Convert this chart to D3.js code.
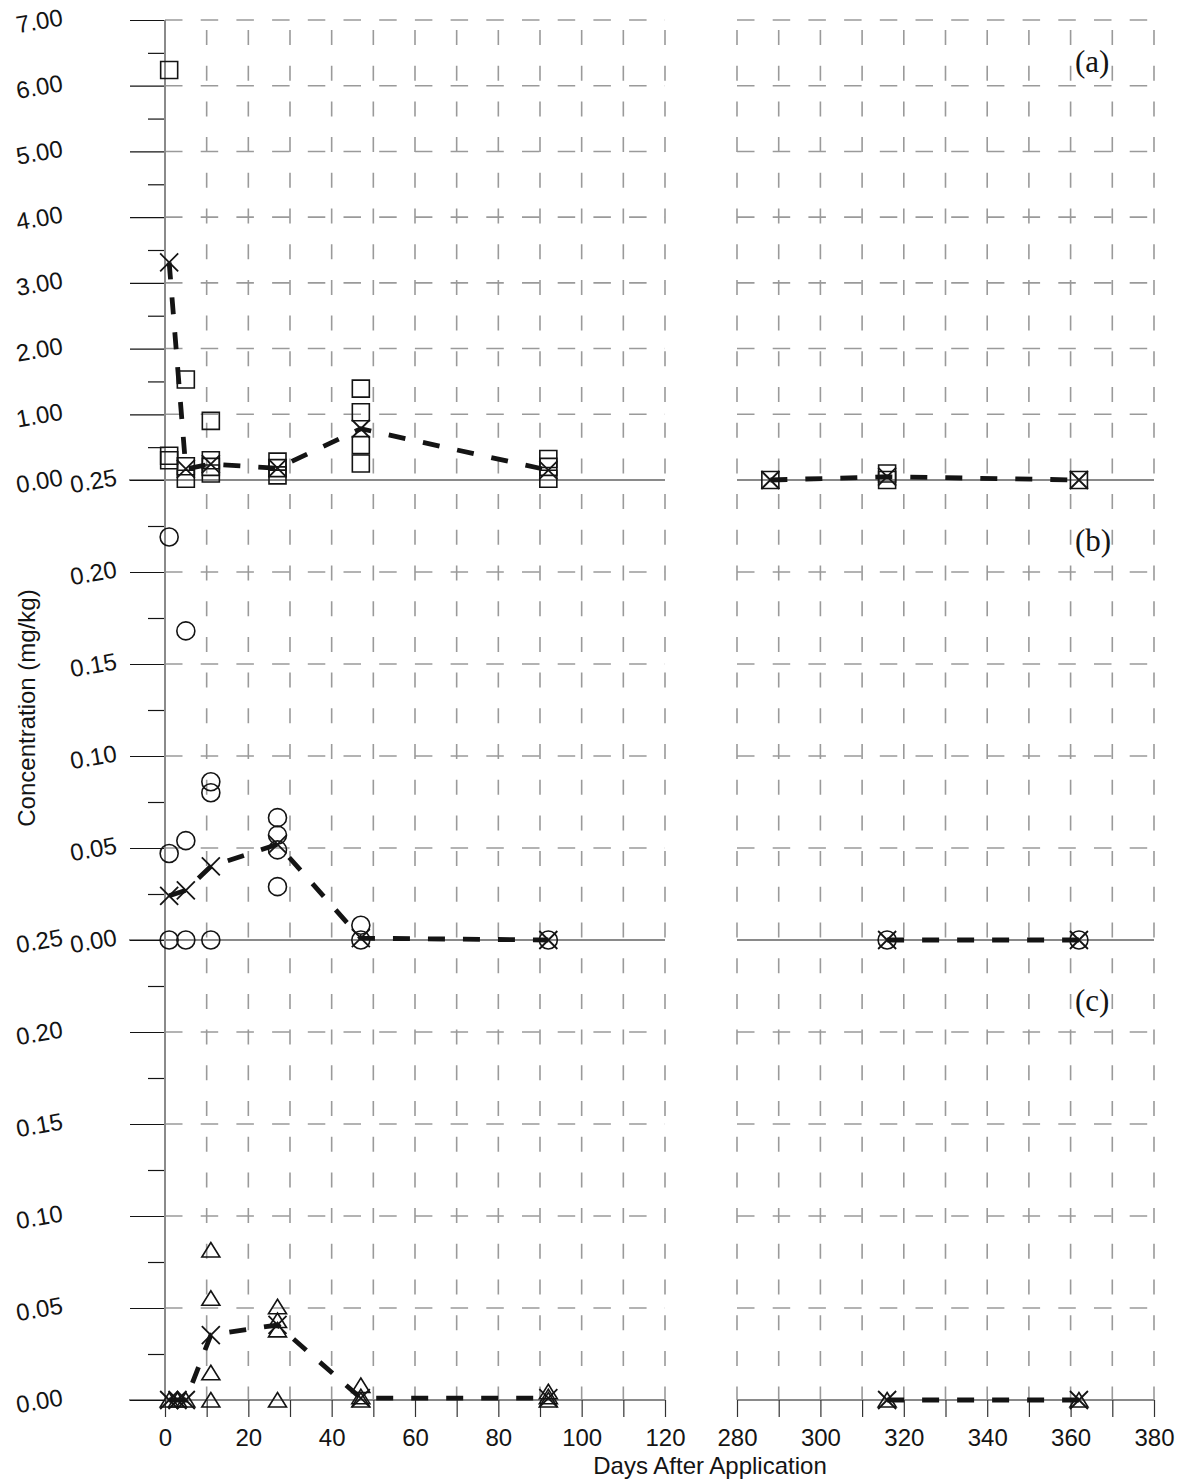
<!DOCTYPE html>
<html><head><meta charset="utf-8">
<script src="https://cdn.jsdelivr.net/npm/d3@7"></script>
<style>body{margin:0;background:#fff}</style>
</head><body>
<svg id="chart" width="1180" height="1481"></svg>
<script>
// ---------------- data ----------------
const repDaysA = [1,1,1,5,5,5,11,11,11,11,27,27,27,47,47,47,47,92,92,92,288,316,316,362];
const repValsA = [6.24,0.37,0.30,1.53,0.21,0.02,0.90,0.30,0.20,0.10,0.28,0.18,0.07,1.39,1.03,0.53,0.25,0.32,0.20,0.02,0.0,0.10,0.0,0.0];
const meanDaysA = [1,5,11,27,47,92,288,316,362];
const meanValsA = [3.31,0.17,0.24,0.18,0.78,0.15,0.0,0.05,0.0];

const repDaysB = [1,1,1,5,5,5,11,11,11,27,27,27,27,47,47,92,316,362];
const repValsB = [0.219,0.047,0.0,0.168,0.054,0.0,0.086,0.080,0.0,0.0665,0.057,0.049,0.029,0.008,0.0,0.0,0.0,0.0];
const meanDaysB = [1,5,11,27,47,92,316,362];
const meanValsB = [0.024,0.027,0.040,0.052,0.001,0.0,0.0,0.0];

const repDaysC = [1,3,5,11,11,11,11,27,27,27,27,47,47,47,92,92,92,316,362];
const repValsC = [0,0,0,0.0815,0.0553,0.0148,0,0.0507,0.0432,0.0381,0,0.0079,0.0018,0,0.0045,0.0018,0,0,0];
const meanDaysC = [1,3,5,11,27,47,92,316,362];
const meanValsC = [0,0,0,0.0353,0.0408,0.001,0.001,0,0];

const xTicksLeft = [0,10,20,30,40,50,60,70,80,90,100,110,120];
const xTicksRight = [280,290,300,310,320,330,340,350,360,370,380];
const yTicksA = [0,1,2,3,4,5,6,7];
const yMinorA = [0.5,1.5,2.5,3.5,4.5,5.5,6.5];
const yTicksBC = [0,0.05,0.10,0.15,0.20,0.25];
const yMinorBC = [0.025,0.075,0.125,0.175,0.225];
const panelLabels = ["(a)","(b)","(c)"];
const xTitle = "Days After Application";
const yTitle = "Concentration (mg/kg)";

// ---------------- layout ----------------
const svg = d3.select("#chart");
const FONT = "'Liberation Sans', Arial, Helvetica, sans-serif";
const SERIF = "'Liberation Serif', 'Times New Roman', serif";
const GRID = "#9a9a9a", AXIS = "#8a8a8a", INK = "#141414";

const xL = d3.scaleLinear().domain([0,120]).range([165,665]);
const xR = d3.scaleLinear().domain([280,380]).range([737,1154]);
const xs = d => d <= 200 ? xL(d) : xR(d);

const yA = d3.scaleLinear().domain([0,7]).range([480,20]);
const yB = d3.scaleLinear().domain([0,0.25]).range([940,480]);
const yC = d3.scaleLinear().domain([0,0.25]).range([1400,940]);

const panels = [
  {y:yA, ticks:yTicksA, minor:yMinorA, rd:repDaysA, rv:repValsA, md:meanDaysA, mv:meanValsA, mk:"square", pad:67, lab:panelLabels[0], labY:72},
  {y:yB, ticks:yTicksBC, minor:yMinorBC, rd:repDaysB, rv:repValsB, md:meanDaysB, mv:meanValsB, mk:"circle", pad:13, lab:panelLabels[1], labY:551},
  {y:yC, ticks:yTicksBC, minor:yMinorBC, rd:repDaysC, rv:repValsC, md:meanDaysC, mv:meanValsC, mk:"triangle", pad:67, lab:panelLabels[2], labY:1011}
];

const gGrid = svg.append("g");
const gAxis = svg.append("g");
const gLines = svg.append("g");
const gMarks = svg.append("g");

// vertical grid lines
[...xTicksLeft.filter(d=>d>0), ...xTicksRight].forEach(d => {
  gGrid.append("line").attr("x1", xs(d)).attr("x2", xs(d)).attr("y1", 20).attr("y2", 1400)
    .attr("stroke", GRID).attr("stroke-width", 1.6)
    .attr("stroke-dasharray", "15,20.7").attr("stroke-dashoffset", 25.7);
});

panels.forEach((p, i) => {
  // horizontal grid
  p.ticks.filter(t => t > 0 && !(i > 0 && t === 0.25)).forEach(t => {
    [[0,120],[280,380]].forEach(seg => {
      gGrid.append("line").attr("x1", xs(seg[0])).attr("x2", xs(seg[1]))
        .attr("y1", p.y(t)).attr("y2", p.y(t))
        .attr("stroke", GRID).attr("stroke-width", 1.6).attr("stroke-dasharray", "17.5,18.2");
    });
  });

  // mean dashed lines
  const pts = p.md.map((d, k) => [d, p.mv[k]]);
  const line = d3.line().x(d => xs(d[0])).y(d => p.y(d[1]));
  [pts.filter(d => d[0] <= 120), pts.filter(d => d[0] >= 280)].forEach(seg => {
    gLines.append("path").attr("d", line(seg)).attr("fill", "none")
      .attr("stroke", INK).attr("stroke-width", 4.8).attr("stroke-dasharray", "17,18");
  });

  // zero axis lines
  gAxis.append("line").attr("x1", 129).attr("x2", xL(120)).attr("y1", p.y(0)).attr("y2", p.y(0))
    .attr("stroke", AXIS).attr("stroke-width", 2);
  gAxis.append("line").attr("x1", xR(280)).attr("x2", xR(380)).attr("y1", p.y(0)).attr("y2", p.y(0))
    .attr("stroke", AXIS).attr("stroke-width", 2);

  // y axis major ticks + labels
  const ax = d3.axisLeft(p.y).tickValues(p.ticks).tickSize(35).tickPadding(p.pad)
    .tickFormat(d3.format(".2f"));
  const g = gAxis.append("g").attr("transform", "translate(165,0)").call(ax);
  g.select(".domain").remove();
  g.selectAll(".tick line").attr("stroke", INK).attr("stroke-width", 1.2);
  g.selectAll(".tick text").attr("font-family", FONT).attr("font-size", 24).attr("fill", INK)
    .attr("transform", function(){ const x = +this.getAttribute("x"); return `rotate(-10 ${x} 0) translate(0,-3)`; });
  // minor ticks
  const gm = gAxis.append("g").attr("transform", "translate(165,0)")
    .call(d3.axisLeft(p.y).tickValues(p.minor).tickSize(17).tickFormat(""));
  gm.select(".domain").remove();
  gm.selectAll(".tick line").attr("stroke", INK).attr("stroke-width", 1.2);

  // replicate markers
  const reps = p.rd.map((d, k) => [d, p.rv[k]]);
  reps.forEach(d => {
    const cx = xs(d[0]), cy = p.y(d[1]);
    let path;
    if (p.mk === "square") path = `M${cx-8.5},${cy-8.5}h17v17h-17Z`;
    else if (p.mk === "triangle") path = `M${cx},${cy-7.5}L${cx+9},${cy+7}L${cx-9},${cy+7}Z`;
    if (p.mk === "circle") {
      gMarks.append("circle").attr("cx", cx).attr("cy", cy).attr("r", 9)
        .attr("fill", "none").attr("stroke", INK).attr("stroke-width", 1.6);
    } else {
      gMarks.append("path").attr("d", path).attr("fill", "none").attr("stroke", INK).attr("stroke-width", 1.6);
    }
  });
  // mean markers (X)
  pts.forEach(d => {
    const cx = xs(d[0]), cy = p.y(d[1]);
    gMarks.append("path").attr("d", `M${cx-9},${cy-9}L${cx+9},${cy+9}M${cx-9},${cy+9}L${cx+9},${cy-9}`)
      .attr("stroke", INK).attr("stroke-width", 1.8).attr("fill", "none");
  });

  // panel label
  svg.append("text").attr("x", 1075).attr("y", p.labY).text(p.lab)
    .attr("font-family", SERIF).attr("font-size", 31).attr("fill", INK);
});

// y axis line
gAxis.append("line").attr("x1", 165).attr("x2", 165).attr("y1", 20).attr("y2", 1400)
  .attr("stroke", AXIS).attr("stroke-width", 2);

// x axes at bottom
[[xL, xTicksLeft],[xR, xTicksRight]].forEach(([sc, tv]) => {
  const g = gAxis.append("g").attr("transform", "translate(0,1400)")
    .call(d3.axisBottom(sc).tickValues(tv).tickSize(17).tickPadding(12)
      .tickFormat(d => d % 20 === 0 ? d : ""));
  g.select(".domain").remove();
  g.selectAll(".tick line").attr("stroke", "#333").attr("stroke-width", 1.2);
  g.selectAll(".tick text").attr("font-family", FONT).attr("font-size", 24).attr("fill", INK);
});

// titles
svg.append("text").attr("x", 710).attr("y", 1474).attr("text-anchor", "middle")
  .attr("font-family", FONT).attr("font-size", 24).attr("fill", INK).text(xTitle);
svg.append("text").attr("transform", "translate(35,708) rotate(-90)").attr("text-anchor", "middle")
  .attr("font-family", FONT).attr("font-size", 24).attr("fill", INK).text(yTitle);
</script>
</body></html>
